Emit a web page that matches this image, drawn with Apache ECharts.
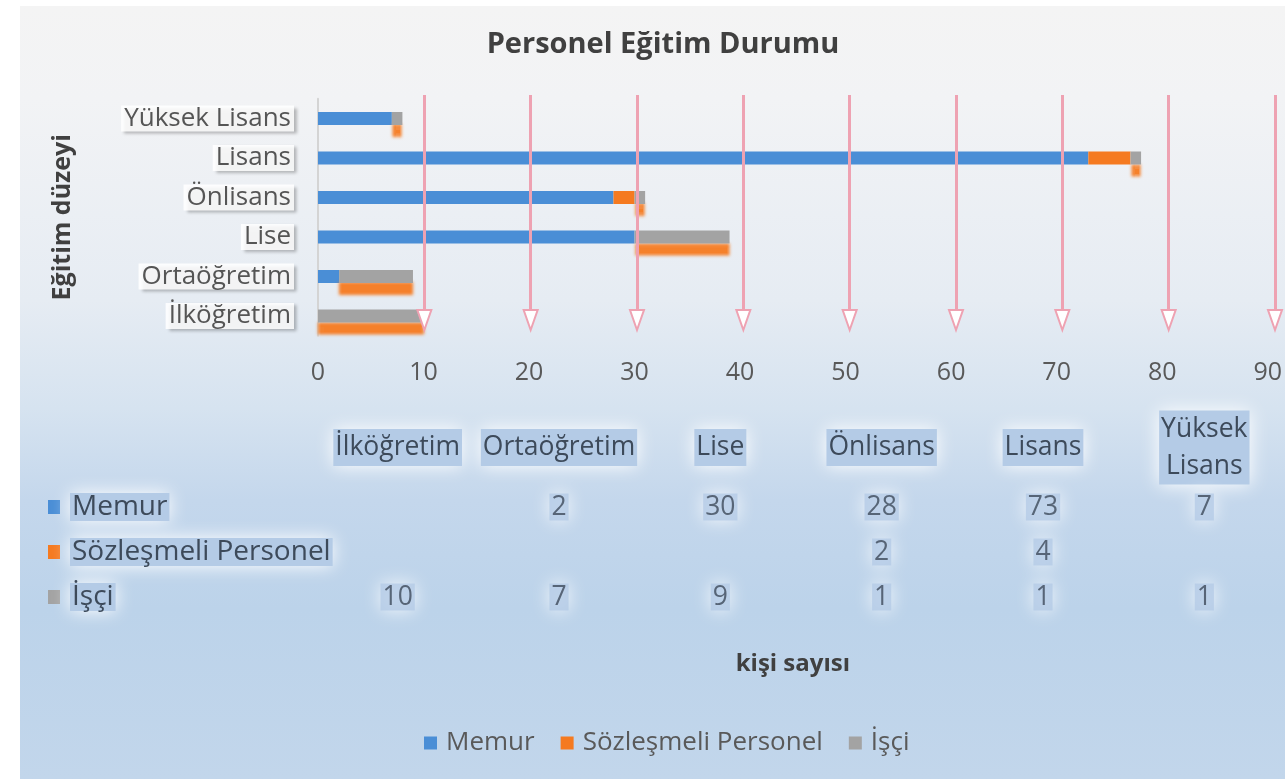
<!DOCTYPE html>
<html><head><meta charset="utf-8">
<script src="https://cdn.jsdelivr.net/npm/echarts@6/dist/echarts.min.js"></script>
<style>
html,body{margin:0;padding:0;background:#fff;overflow:hidden;}
#c{position:absolute;left:20px;top:6px;width:1265px;height:773px;
background:linear-gradient(to bottom,#f4f4f4 0%,#f2f3f5 12%,#e6ecf3 38%,#d6e3f0 52%,#c4d7ec 64%,#bcd3ea 78%,#c2d6eb 100%);}
</style></head><body><div id="c"></div>
<script>
const categories = ['İlköğretim','Ortaöğretim','Lise','Önlisans','Lisans','Yüksek Lisans'];
const seriesNames = ['Memur','Sözleşmeli Personel','İşçi'];
const memur = [null, 2, 30, 28, 73, 7];
const sozlesmeli = [null, null, null, 2, 4, null];
const isci = [10, 7, 9, 1, 1, 1];
const gridlineValues = [10, 20, 30, 40, 50, 60, 70, 80, 90];
const chartTitle = 'Personel Eğitim Durumu';
const yTitle = 'Eğitim düzeyi';
const xTitle = 'kişi sayısı';

const colors = ['#4a8ed6', '#f57a20', '#a3a3a3'];
const FONT = 'Open Sans';
const allSeries = [memur, sozlesmeli, isci];
const HL = '#b4cbe6';
const TXT = '#3d4a5a';

const tableData = [];
allSeries.forEach((arr, r) => arr.forEach((v, c) => { if (v != null) tableData.push([c, r, v]); }));

const rowRich = {
  g: { width: 10, height: 14 },
  t: { fontFamily: FONT, fontSize: 28, color: TXT, backgroundColor: HL, padding: [0, 2],
       shadowColor: '#ffffff', shadowBlur: 18 }
};
colors.forEach((c, i) => { rowRich['s' + i] = { backgroundColor: c, width: 12, height: 14 }; });

const chart = echarts.init(document.getElementById('c'), null, { renderer: 'canvas' });
chart.setOption({
  animation: false,
  textStyle: { fontFamily: FONT },
  graphic: [{
    type: 'text', x: 643, y: 39,
    style: { text: chartTitle, align: 'center', verticalAlign: 'middle',
             font: 'bold 29px "Open Sans"', fill: '#404040' }
  }],
  legend: {
    data: seriesNames, left: 399, top: 719, icon: 'rect', itemWidth: 13, itemHeight: 13, itemGap: 26,
    textStyle: { fontFamily: FONT, fontSize: 26, color: '#595959', padding: [0, 0, 0, 4] },
    itemStyle: { shadowBlur: 0, shadowOffsetY: 0, shadowColor: 'transparent' }
  },
  grid: [
    { left: 298, right: 10, top: 92.75, height: 237, containLabel: false },
    { left: 298, right: 10, top: 89, height: 225, containLabel: false },
    { left: 297, width: 975.6, top: 478.5, height: 135, containLabel: false }
  ],
  xAxis: [
    { type: 'value', gridIndex: 0, min: 0, max: 90, interval: 10,
      axisLine: { show: false }, axisTick: { show: false }, splitLine: { show: false },
      axisLabel: { fontSize: 25, color: '#595959', margin: 25, fontFamily: FONT },
      name: xTitle, nameLocation: 'middle', nameGap: 316,
      nameTextStyle: { fontSize: 24, fontWeight: 'bold', color: '#404040', fontFamily: FONT } },
    { type: 'value', gridIndex: 1, min: 0, max: 90, interval: 10, show: false },
    { type: 'category', gridIndex: 2, data: categories, position: 'top',
      axisLine: { show: false }, axisTick: { show: false }, splitLine: { show: false },
      axisLabel: { interval: 0, fontSize: 26.5, color: TXT, margin: 37, verticalAlign: 'middle',
        lineHeight: 37, fontFamily: FONT,
        formatter: v => v.replace(' ', '\n'),
        backgroundColor: HL, padding: [0, 2], shadowColor: '#ffffff', shadowBlur: 18 } }
  ],
  yAxis: [
    { type: 'category', gridIndex: 0, data: categories,
      axisLine: { show: true, lineStyle: { color: '#d4d4d4', width: 2 } },
      axisTick: { show: false },
      axisLabel: { fontSize: 26, color: '#555555', margin: 24, fontFamily: FONT,
        backgroundColor: 'rgba(255,255,255,0.85)', padding: [0, 3],
        shadowColor: 'rgba(0,0,0,0.3)', shadowBlur: 3, shadowOffsetX: 3, shadowOffsetY: 2 },
      name: yTitle, nameLocation: 'middle', nameGap: 243,
      nameTextStyle: { fontSize: 25, fontWeight: 'bold', color: '#404040', fontFamily: FONT } },
    { type: 'value', gridIndex: 1, min: 0, max: 1, show: false },
    { type: 'category', gridIndex: 2, data: seriesNames, inverse: true,
      axisLine: { show: false }, axisTick: { show: false }, splitLine: { show: false },
      axisLabel: { align: 'left', margin: 269, interval: 0,
        formatter: (v, i) => '{s' + i + '|}{g|}{t|' + v + '}', rich: rowRich } }
  ],
  series: [
    { type: 'scatter', xAxisIndex: 1, yAxisIndex: 1, data: [[0, 0]], symbolSize: 0, silent: true, z: 1,
      itemStyle: { color: 'transparent' },
      markLine: { silent: true, symbol: ['emptyTriangle', 'none'], symbolSize: [14, 20],
        label: { show: false }, emphasis: { disabled: true },
        lineStyle: { color: '#eea2b2', width: 3, type: 'solid' },
        data: gridlineValues.map(v => ({ xAxis: v })) } },
    { name: seriesNames[0], type: 'bar', stack: 'total', xAxisIndex: 0, yAxisIndex: 0, data: memur,
      barWidth: 13, z: 3, itemStyle: { color: colors[0] } },
    { name: seriesNames[1], type: 'bar', stack: 'total', xAxisIndex: 0, yAxisIndex: 0, data: sozlesmeli,
      barWidth: 13, z: 3, itemStyle: { color: colors[1] } },
    { name: seriesNames[2], type: 'bar', stack: 'total', xAxisIndex: 0, yAxisIndex: 0, data: isci,
      barWidth: 13, z: 3, itemStyle: { color: colors[2], shadowColor: 'rgba(245,122,32,0.95)',
        shadowOffsetY: 12, shadowBlur: 3 } },
    { type: 'scatter', xAxisIndex: 2, yAxisIndex: 2, data: tableData, symbolSize: 1, silent: true,
      itemStyle: { color: 'transparent' },
      label: { show: true, position: 'inside', formatter: p => String(p.value[2]),
        fontSize: 26.5, color: TXT, fontFamily: FONT,
        backgroundColor: HL, padding: [0, 2], shadowColor: '#ffffff', shadowBlur: 18 } }
  ]
});
</script></body></html>
